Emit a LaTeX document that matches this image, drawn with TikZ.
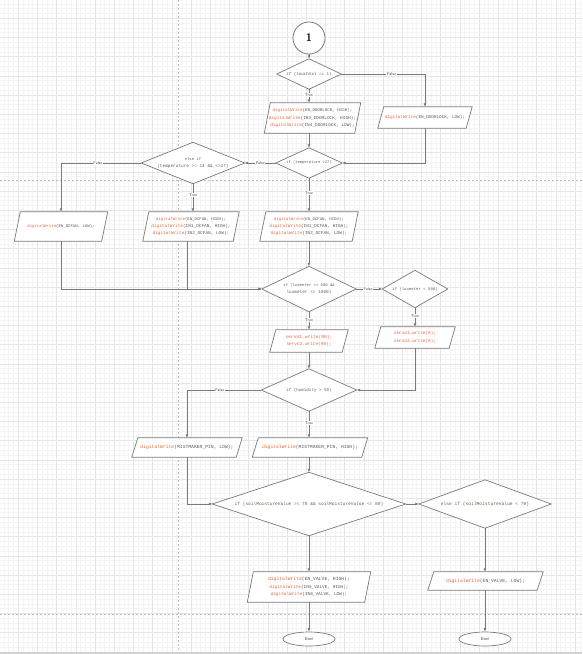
\documentclass[tikz,border=0pt]{standalone}
\usepackage{fontspec}
\setmainfont{Liberation Sans}
\setmonofont{Liberation Mono}
\usetikzlibrary{arrows.meta,shapes.geometric,calc}
\definecolor{fn}{HTML}{E0663A}
\definecolor{argc}{HTML}{5A5A5A}
\definecolor{condc}{HTML}{66624A}
\definecolor{lc}{HTML}{7A7A7A}
\definecolor{gminorc}{HTML}{F5F5F5}
\definecolor{gmajorc}{HTML}{E6E6E6}
\newcommand\dw[1]{\textcolor{fn}{digitalWrite}(#1);}
\newcommand\fs[1]{\fontsize{#1}{7.3}\selectfont}
\newcommand\mypara[5]{%
  \node[pnode, minimum width=#3, minimum height=#4] (#1) at (#2) {};
  \draw[shapeline] (#1.south west) -- ($(#1.north west)+(6,0)$) -- (#1.north east) -- ($(#1.south east)+(-6,0)$) -- cycle;
  \node[pnode] (#1-t) at (#1.center) {#5};}
\newcommand\mydiam[5]{%
  \node[dnode, minimum width=#3, minimum height=#4] (#1) at (#2) {};
  \draw[shapeline] (#1.north) -- (#1.east) -- (#1.south) -- (#1.west) -- cycle;
  \node[dnode] (#1-t) at (#1.center) {#5};}
\begin{document}
\begin{tikzpicture}[x=1pt,y=-1pt,
  shapeline/.style={draw=lc, line width=0.7pt, fill=white},
  pnode/.style={rectangle, inner sep=0pt, text=argc, align=center, font=\ttfamily\fontsize{4.4}{7.3}\selectfont},
  dnode/.style={rectangle, inner sep=0pt, text=condc, align=center, font=\ttfamily\fontsize{4.4}{7.3}\selectfont},
  conn/.style={draw=lc, line width=0.7pt, -{Latex[length=3.5pt,width=3pt]}},
  lbl/.style={font=\sffamily\fontsize{4}{4}\selectfont, fill=white, inner sep=0.6pt, text=black!70},
  gminor/.style={draw=gminorc, line width=0.4pt},
  gmajor/.style={draw=gmajorc, line width=0.5pt},
  pagebreak/.style={draw=black!25, line width=0.6pt, dash pattern=on 2pt off 2pt},
  endnode/.style={ellipse, draw=lc, line width=0.7pt, fill=white, minimum width=52pt, minimum height=14pt, inner sep=0pt, font=\sffamily\fontsize{4.4}{5}\selectfont, text=black!75},
  startnode/.style={circle, draw=lc, line width=0.8pt, fill=white, minimum size=32pt, inner sep=0pt, font=\sffamily\bfseries\fontsize{11}{12}\selectfont, text=black!85}
]
\useasboundingbox (0,0) rectangle (582,654);
\fill[white] (0,0) rectangle (582,654);
% grid
\foreach \i in {0,...,122} {
  \draw[gminor] ({-1+4.8*\i},0) -- ({-1+4.8*\i},654);
}
\foreach \i in {0,...,137} {
  \draw[gminor] (0,{-1+4.8*\i}) -- (582,{-1+4.8*\i});
}
\foreach \i in {0,...,30} {
  \draw[gmajor] ({-1+19.2*\i},0) -- ({-1+19.2*\i},654);
}
\foreach \i in {0,...,34} {
  \draw[gmajor] (0,{-1+19.2*\i}) -- (582,{-1+19.2*\i});
}
\draw[pagebreak] (178,0) -- (178,654);
\draw[pagebreak] (0,180) -- (582,180);
\draw[pagebreak] (0,614) -- (582,614);
\fill[black!18] (0,651.5) rectangle (582,654);

% nodes
\node[startnode] (c1) at (309,38) {1};
\mydiam{d1}{309,74}{64}{30}{\fs{4.2}if (touchVal == 1)}
\mypara{b1}{312.5,118}{96}{30}{\fs{4.15}\dw{EN\_DOORLOCK, HIGH}\\\dw{IN3\_DOORLOCK, HIGH}\\\dw{IN4\_DOORLOCK, LOW}}
\mypara{b2}{425,117.5}{94}{21}{\fs{4.3}\dw{EN\_DOORLOCK, LOW}}
\mydiam{d2}{309,163}{66}{30}{\fs{3.8}if (temperature >27)}
\mydiam{d3}{193,163}{103}{41}{\fs{3.9}else if\\(temperature >= 14 \&\& <=27)}
\mypara{b3}{61,226.5}{93}{29}{\fs{4.0}\dw{EN\_DCFAN, LOW}}
\mypara{b4}{191,226.5}{96}{29}{\fs{4.0}\dw{EN\_DCFAN, HIGH}\\\dw{IN1\_DCFAN, HIGH}\\\dw{IN2\_DCFAN, LOW}}
\mypara{b5}{309,226.5}{98}{29}{\fs{4.0}\dw{EN\_DCFAN, HIGH}\\\dw{IN1\_DCFAN, HIGH}\\\dw{IN2\_DCFAN, LOW}}
\mydiam{d4}{309,289}{94}{45}{\fs{3.9}if (luxmeter >= 500 \&\&\\luxmeter <= 1000)}
\mydiam{d5}{415,289}{65}{37}{\fs{4.0}if (luxmeter < 500)}
\mypara{b6}{309,341}{78}{22}{\fs{4.6}\textcolor{fn}{servo1.write(90);}\\\textcolor{fn}{servo2.write(90);}}
\mypara{b7}{415,337.5}{80}{21}{\fs{4.4}\textcolor{fn}{servo1.write(0);}\\\textcolor{fn}{servo2.write(0);}}
\mydiam{d6}{309,390}{95}{42}{\fs{4.2}if (humidity > 50)}
\mypara{b8}{187,447.5}{110}{19}{\fs{4.7}\dw{MISTMAKER\_PIN, LOW}}
\mypara{b9}{310,447.5}{115}{19}{\fs{4.7}\dw{MISTMAKER\_PIN, HIGH}}
\mydiam{d7}{309,504}{193}{63}{\fs{4.5}if (soilMoistureValue >= 70 \&\& soilMoistureValue <= 80)}
\mydiam{d8}{485,504}{132}{48}{\fs{4.6}else if (soilMoistureValue < 70)}
\mypara{b10}{309,587}{123}{30}{\fs{4.7}\dw{EN\_VALVE, HIGH}\\\dw{IN5\_VALVE, HIGH}\\\dw{IN6\_VALVE, LOW}}
\mypara{b11}{485.5,581}{115}{18}{\fs{4.7}\dw{EN\_VALVE, LOW}}
\node[endnode] (e1) at (309,639) {End};
\node[endnode] (e2) at (485,639) {End};

% connectors
\draw[conn] (c1.south) -- (d1.north);
\draw[conn] (d1.south) -- node[lbl,pos=0.45]{True} (d1.south |- b1.north);
\draw[conn] (d1.east) -| node[lbl,pos=0.3]{False} (b2.north);
\draw[conn] (b1.south -| d2.north) -- (d2.north);
\draw[conn] (b2.south) |- (d2.east);
\draw[conn] (d2.west) -- node[lbl]{False} (d3.east);
\draw[conn] (d2.south) -- node[lbl,pos=0.45]{True} (d2.south |- b5.north);
\draw[conn] (d3.south) -- node[lbl,pos=0.4]{True} (d3.south |- b4.north);
\draw[conn] (d3.west) -| node[lbl,pos=0.27]{False} (b3.north);
\draw[conn] (b5.south -| d4.north) -- (d4.north);
\draw[conn] (b3.south) |- (d4.west);
\draw[conn] ($(b4.south)+(-4,0)$) |- (d4.west);
\draw[conn] (d4.east) -- node[lbl,pos=0.45]{False} (d5.west);
\draw[conn] (d4.south) -- node[lbl,pos=0.45]{True} (d4.south |- b6.north);
\draw[conn] (d5.south) -- node[lbl,pos=0.45]{True} (d5.south |- b7.north);
\draw[conn] (b6.south -| d6.north) -- (d6.north);
\draw[conn] (b7.south) |- (d6.east);
\draw[conn] (d6.west) -| node[lbl,pos=0.28]{False} (b8.north);
\draw[conn] (d6.south) -- node[lbl,pos=0.45]{True} (d6.south |- b9.north);
\draw[conn] (b8.south) |- (d7.west);
\draw[conn] (b9.south -| d7.north) -- (d7.north);
\draw[conn] (d7.east) -- (d8.west);
\draw[conn] (d7.south) -- (d7.south |- b10.north);
\draw[conn] (d8.south) -- (d8.south |- b11.north);
\draw[conn] (b10.south -| e1.north) -- (e1.north);
\draw[conn] (b11.south -| e2.north) -- (e2.north);
\end{tikzpicture}
\end{document}
